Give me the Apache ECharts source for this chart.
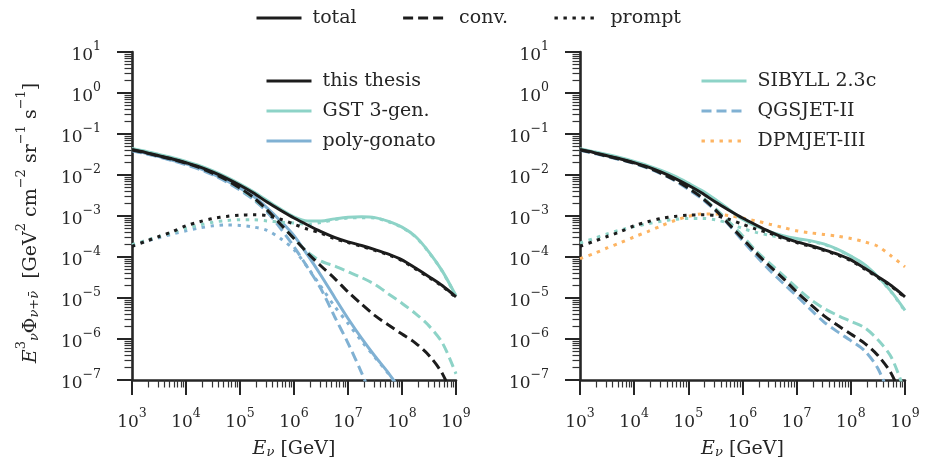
<!DOCTYPE html>
<html><head><meta charset="utf-8">
<script src="https://cdn.jsdelivr.net/npm/echarts@6/dist/echarts.min.js"></script>
<style>html,body{margin:0;padding:0;background:#fff}#c{width:926px;height:467px}</style>
</head><body><div id="c"></div>
<script>
// ---- data (log10 of E [GeV] and log10 of E^3 Phi) ----
const lgE = [3, 3.25, 3.5, 3.75, 4, 4.25, 4.5, 4.75, 5, 5.25, 5.5, 5.75, 6, 6.25, 6.5, 6.75, 7, 7.25, 7.5, 7.75, 8, 8.25, 8.5, 8.75, 9];

// this thesis (black), both panels
const thesisTotal  = [-1.38,-1.45,-1.53,-1.61,-1.70,-1.80,-1.93,-2.08,-2.25,-2.44,-2.66,-2.86,-3.05,-3.22,-3.38,-3.52,-3.63,-3.72,-3.82,-3.93,-4.07,-4.27,-4.48,-4.70,-4.97];
const thesisConv   = [-1.39,-1.46,-1.54,-1.62,-1.71,-1.82,-1.96,-2.12,-2.32,-2.55,-2.85,-3.20,-3.55,-3.90,-4.22,-4.52,-4.85,-5.15,-5.43,-5.66,-5.88,-6.10,-6.40,-6.85,-7.60];
const thesisPrompt = [-3.74,-3.62,-3.50,-3.38,-3.24,-3.14,-3.06,-3.01,-2.98,-2.97,-2.99,-3.08,-3.20,-3.32,-3.42,-3.55,-3.65,-3.74,-3.84,-3.95,-4.09,-4.29,-4.50,-4.72,-4.99];

// left panel: GST 3-gen. (teal), poly-gonato (blue)
const gstTotal  = [-1.35,-1.42,-1.50,-1.58,-1.67,-1.77,-1.90,-2.05,-2.22,-2.41,-2.62,-2.83,-3.02,-3.12,-3.12,-3.07,-3.03,-3.02,-3.04,-3.13,-3.27,-3.50,-3.88,-4.35,-4.95];
const gstConv   = [-1.37,-1.44,-1.52,-1.60,-1.69,-1.80,-1.95,-2.12,-2.33,-2.57,-2.86,-3.20,-3.55,-3.88,-4.10,-4.22,-4.36,-4.50,-4.67,-4.90,-5.13,-5.38,-5.68,-6.10,-6.85];
const gstPrompt = [-3.70,-3.60,-3.50,-3.40,-3.30,-3.22,-3.15,-3.11,-3.09,-3.09,-3.12,-3.15,-3.17,-3.20,-3.16,-3.09,-3.05,-3.04,-3.05,-3.14,-3.28,-3.51,-3.89,-4.36,-4.96];
const pgTotal  = [-1.40,-1.47,-1.55,-1.64,-1.73,-1.84,-1.98,-2.14,-2.32,-2.52,-2.80,-3.12,-3.48,-3.95,-4.45,-4.98,-5.50,-5.98,-6.42,-6.83,-7.30,null,null,null,null];
const pgConv   = [-1.41,-1.48,-1.56,-1.65,-1.75,-1.86,-2.00,-2.17,-2.37,-2.60,-2.90,-3.30,-3.75,-4.25,-4.78,-5.45,-6.10,-6.82,-7.60,null,null,null,null,null,null];
const pgPrompt = [-3.72,-3.62,-3.53,-3.44,-3.36,-3.29,-3.24,-3.22,-3.23,-3.27,-3.35,-3.55,-3.82,-4.25,-4.72,-5.20,-5.62,-6.05,-6.45,-6.85,-7.30,null,null,null,null];

// right panel: SIBYLL 2.3c (teal), QGSJET-II (blue), DPMJET-III (orange)
const sibTotal  = [-1.36,-1.43,-1.50,-1.58,-1.67,-1.77,-1.89,-2.03,-2.20,-2.38,-2.60,-2.84,-3.08,-3.25,-3.38,-3.48,-3.55,-3.60,-3.68,-3.81,-3.98,-4.18,-4.48,-4.85,-5.30];
const sibConv   = [-1.37,-1.44,-1.52,-1.60,-1.69,-1.80,-1.94,-2.10,-2.30,-2.53,-2.82,-3.14,-3.48,-3.85,-4.15,-4.45,-4.75,-5.03,-5.25,-5.42,-5.57,-5.72,-6.02,-6.45,-7.30];
const sibPrompt = [-3.66,-3.55,-3.44,-3.34,-3.26,-3.19,-3.13,-3.08,-3.06,-3.06,-3.09,-3.18,-3.30,-3.40,-3.47,-3.53,-3.57,-3.62,-3.69,-3.82,-3.99,-4.19,-4.49,-4.86,-5.32];
const qgsConv   = [-1.40,-1.47,-1.55,-1.63,-1.72,-1.83,-1.97,-2.14,-2.35,-2.58,-2.87,-3.22,-3.60,-3.97,-4.32,-4.64,-4.95,-5.27,-5.58,-5.82,-6.04,-6.28,-6.72,-7.50,null];
const dpmPrompt = [-4.04,-3.92,-3.78,-3.65,-3.51,-3.38,-3.24,-3.11,-3.01,-2.95,-2.95,-2.99,-3.05,-3.12,-3.20,-3.28,-3.36,-3.41,-3.45,-3.49,-3.55,-3.63,-3.74,-3.98,-4.24];

// axis ticks
const xMajorExp = [3, 4, 5, 6, 7, 8, 9];
const yMajorExp = [-7, -6, -5, -4, -3, -2, -1, 0, 1];
const minorMult = [2, 3, 4, 5, 6, 7, 8, 9];

const styleLegend = ['total', 'conv.', 'prompt'];
const leftLegend = ['this thesis', 'GST 3-gen.', 'poly-gonato'];
const rightLegend = ['SIBYLL 2.3c', 'QGSJET-II', 'DPMJET-III'];

// ---- helpers ----
const F = 'DejaVu Serif';
const TXT = '#262626';
const AX = '#262626';
const BLACK = '#1c1c1c', TEAL = '#8dd3c7', BLUE = '#80b1d3', ORANGE = '#fdb462';
const SOLID = 'solid', DASH = [10, 5], DOT = [3.4, 5.6];

function pts(vals) {
  const out = [];
  vals.forEach((v, i) => { if (v != null) out.push([Math.pow(10, lgE[i]), Math.pow(10, v)]); });
  return out;
}
const xMajor = xMajorExp.map(e => Math.pow(10, e));
const yMajor = yMajorExp.map(e => Math.pow(10, e));
const minorsFor = exps => { const r = []; for (let i = 0; i < exps.length - 1; i++) minorMult.forEach(m => r.push(m * Math.pow(10, exps[i]))); return r; };
const xMinor = minorsFor(xMajorExp);
const yMinor = minorsFor(yMajorExp);

const tickRich = {
  b: { fontFamily: F, fontSize: 17, color: TXT, lineHeight: 24, verticalAlign: 'bottom' },
  s: { fontFamily: F, fontSize: 12.5, color: TXT, lineHeight: 14, verticalAlign: 'top' }
};
const fmtPow = v => {
  const e = Math.round(Math.log10(v));
  return '{b|10}{s|' + (e < 0 ? '\u2212' + (-e) : e) + '}';
};
const nameRich = {
  i: { fontFamily: F, fontSize: 19, fontStyle: 'italic', color: TXT, lineHeight: 26, verticalAlign: 'bottom' },
  t: { fontFamily: F, fontSize: 19, color: TXT, lineHeight: 26, verticalAlign: 'bottom' },
  sub: { fontFamily: F, fontSize: 13, fontStyle: 'italic', color: TXT, lineHeight: 14, verticalAlign: 'bottom' },
  sup: { fontFamily: F, fontSize: 13, color: TXT, lineHeight: 14, verticalAlign: 'top' }
};

const grids = [
  { left: 132, top: 52, width: 324, height: 328 },
  { left: 580, top: 52, width: 325, height: 328 }
];

function xAxes(g) {
  return [
    { gridIndex: g, type: 'log', logBase: 10, min: 1e3, max: 1e9, position: 'bottom',
      axisLine: { onZero: false, lineStyle: { color: AX, width: 2.6 } },
      axisTick: { customValues: xMajor, length: 15, lineStyle: { color: AX, width: 2 } },
      axisLabel: { customValues: xMajor, formatter: fmtPow, rich: tickRich, margin: 27 },
      splitLine: { show: false },
      name: '{i|E}{sub|\u03bd}{t| [GeV]}', nameLocation: 'middle', nameGap: 53,
      nameTextStyle: { rich: nameRich } },
    { gridIndex: g, type: 'log', logBase: 10, min: 1e3, max: 1e9, position: 'bottom',
      axisLine: { show: false, onZero: false },
      axisTick: { customValues: xMinor, length: 7.5, lineStyle: { color: '#333', width: 1.2 } },
      axisLabel: { show: false }, splitLine: { show: false } }
  ];
}
function yAxes(g) {
  return [
    { gridIndex: g, type: 'log', logBase: 10, min: 1e-7, max: 1e1, position: 'left',
      axisLine: { onZero: false, lineStyle: { color: AX, width: 2.6 } },
      axisTick: { customValues: yMajor, length: 15, lineStyle: { color: AX, width: 2 } },
      axisLabel: { customValues: yMajor, formatter: fmtPow, rich: tickRich, margin: 31 },
      splitLine: { show: false } },
    { gridIndex: g, type: 'log', logBase: 10, min: 1e-7, max: 1e1, position: 'left',
      axisLine: { show: false, onZero: false },
      axisTick: { customValues: yMinor, length: 7.5, lineStyle: { color: '#333', width: 1.2 } },
      axisLabel: { show: false }, splitLine: { show: false } }
  ];
}

function line(name, panel, vals, color, type) {
  return {
    name, type: 'line', xAxisIndex: panel * 2, yAxisIndex: panel * 2,
    data: pts(vals), symbol: 'none', smooth: 0.3, silent: true,
    lineStyle: { color, width: 3, type, cap: 'butt' }, itemStyle: { color, opacity: 0 }
  };
}
function dummy(name, type) {
  return { name, type: 'line', xAxisIndex: 0, yAxisIndex: 0, data: [], symbol: 'none',
    lineStyle: { color: BLACK, width: 3, type, cap: 'butt' }, itemStyle: { color: BLACK, opacity: 0 } };
}

const series = [
  dummy('total', SOLID), dummy('conv.', DASH), dummy('prompt', DOT),
  // left panel
  line('poly-gonato', 0, pgTotal, BLUE, SOLID),
  line('poly-gonato', 0, pgConv, BLUE, DASH),
  line('poly-gonato', 0, pgPrompt, BLUE, DOT),
  line('GST 3-gen.', 0, gstTotal, TEAL, SOLID),
  line('GST 3-gen.', 0, gstConv, TEAL, DASH),
  line('GST 3-gen.', 0, gstPrompt, TEAL, DOT),
  line('this thesis', 0, thesisTotal, BLACK, SOLID),
  line('this thesis', 0, thesisConv, BLACK, DASH),
  line('this thesis', 0, thesisPrompt, BLACK, DOT),
  // right panel
  line('QGSJET-II', 1, qgsConv, BLUE, DASH),
  line('DPMJET-III', 1, dpmPrompt, ORANGE, DOT),
  line('SIBYLL 2.3c', 1, sibTotal, TEAL, SOLID),
  line('SIBYLL 2.3c', 1, sibConv, TEAL, DASH),
  line('SIBYLL 2.3c', 1, sibPrompt, TEAL, DOT),
  line('this thesis', 1, thesisTotal, BLACK, SOLID),
  line('this thesis', 1, thesisConv, BLACK, DASH),
  line('this thesis', 1, thesisPrompt, BLACK, DOT)
];

const legTxt = { fontFamily: F, fontSize: 19, color: TXT, padding: [0, 0, 0, 6], lineHeight: 22 };
const legendBase = { itemWidth: 45, itemHeight: 14, selectedMode: false, textStyle: legTxt,
  itemStyle: { opacity: 0 }, lineStyle: { width: 3 } };

const chart = echarts.init(document.getElementById('c'), null, { renderer: 'canvas' });
chart.setOption({
  animation: false,
  backgroundColor: '#fff',
  grid: grids,
  xAxis: [...xAxes(0), ...xAxes(1)],
  yAxis: [...yAxes(0), ...yAxes(1)],
  legend: [
    Object.assign({}, legendBase, { data: styleLegend, left: 250, top: 2, orient: 'horizontal', itemGap: 45 }),
    Object.assign({}, legendBase, { data: leftLegend, left: 260, top: 65, orient: 'vertical', itemGap: 8 }),
    Object.assign({}, legendBase, { data: rightLegend, left: 695, top: 65, orient: 'vertical', itemGap: 8 })
  ],
  graphic: [{
    type: 'text', x: 28, y: 223, rotation: Math.PI / 2,
    style: {
      text: '{i|E}{sup|3}{sub|\u03bd}{t|\u03a6}{sub|\u03bd+\u03bd\u0304}{t|  [GeV}{sup|2}{t| cm}{sup|\u22122}{t| sr}{sup|\u22121}{t| s}{sup|\u22121}{t|]}',
      rich: nameRich, align: 'center', verticalAlign: 'middle',
      fontFamily: F, fontSize: 19, fill: TXT
    }
  }],
  series
});
</script></body></html>
